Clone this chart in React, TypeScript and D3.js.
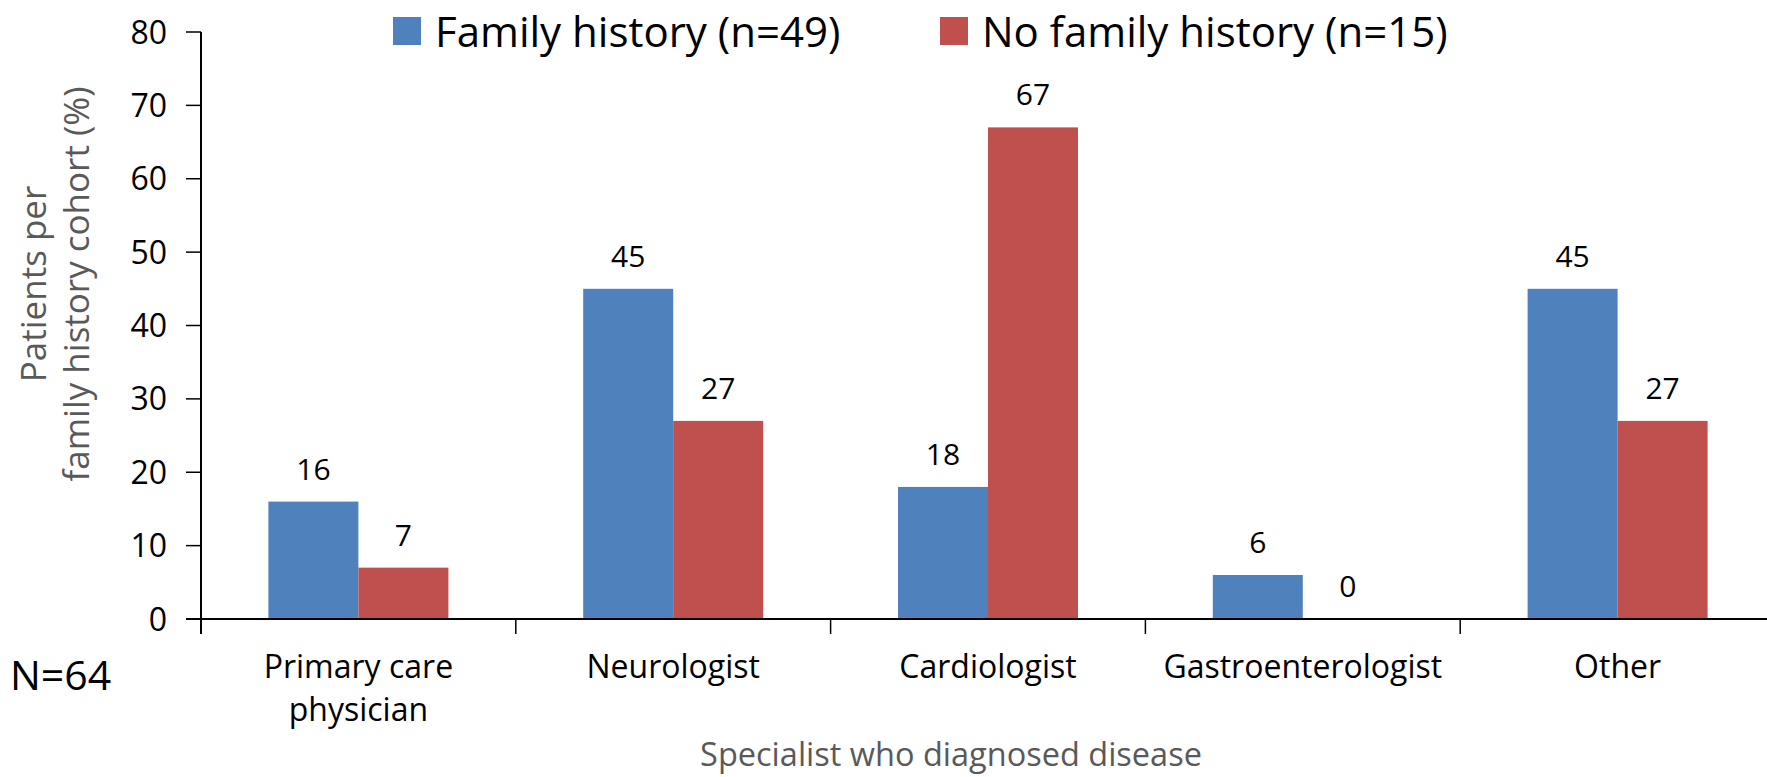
import * as d3 from 'd3'

const CATEGORIES = [['Primary care', 'physician'], ['Neurologist'], ['Cardiologist'], ['Gastroenterologist'], ['Other']]
const SERIES = ['Family history (n=49)', 'No family history (n=15)']
const FAMILY = [16, 45, 18, 6, 45]
const NO_FAMILY = [7, 27, 67, 0, 27]
const Y_TICKS = [0, 10, 20, 30, 40, 50, 60, 70, 80]
const COLORS = ['#4F81BD', '#C0504D']

const FONT = "'Open Sans', Carlito, sans-serif"

export default function App() {
  const width = 1767
  const height = 777
  const left = 201
  const right = 1775
  const top = 32
  const bottom = 619

  const x = d3.scaleBand<number>()
    .domain(CATEGORIES.map((_, i) => i))
    .range([left, right])

  const barW = 90
  const inner = d3.scaleBand<number>()
    .domain([0, 1])
    .range([0, barW * 2])

  const y = d3.scaleLinear().domain([0, 80]).range([bottom, top])

  const series = [FAMILY, NO_FAMILY]

  return (
    <svg width={width} height={height} style={{ position: 'absolute', left: 0, top: 0 }} fontFamily={FONT}>
      <rect width={width} height={height} fill="white" />

      {/* legend */}
      {SERIES.map((s, i) => {
        const lx = i === 0 ? 393 : 940
        return (
          <g key={s}>
            <rect x={lx} y={17} width={28} height={28} fill={COLORS[i]} />
            <text x={lx + 42} y={47} fontSize={42} fill="#000">{s}</text>
          </g>
        )
      })}

      {/* bars */}
      {series.map((vals, si) => vals.map((v, ci) => {
        const bx = x(ci)! + (x.bandwidth() - barW * 2) / 2 + inner(si)!
        return (
          <g key={`${si}-${ci}`}>
            <rect x={bx} y={y(v)} width={barW} height={y(0) - y(v)} fill={COLORS[si]} />
            <text x={bx + barW / 2} y={y(v) - 22} textAnchor="middle" fontSize={30} fill="#000">{v}</text>
          </g>
        )
      }))}

      {/* y axis */}
      <line x1={left} x2={left} y1={top} y2={bottom + 15} stroke="#000" strokeWidth={2} />
      {Y_TICKS.map(t => (
        <g key={t}>
          <line x1={left - 15} x2={left} y1={y(t)} y2={y(t)} stroke="#000" strokeWidth={1.5} />
          <text x={167} y={y(t) + 11.5} textAnchor="end" fontSize={32} fill="#000">{t}</text>
        </g>
      ))}

      {/* x axis */}
      <line x1={left - 15} x2={width} y1={bottom} y2={bottom} stroke="#000" strokeWidth={2} />
      {CATEGORIES.map((_, i) => (
        <line key={i} x1={x(i)!} x2={x(i)!} y1={bottom} y2={bottom + 15} stroke="#000" strokeWidth={1.5} />
      ))}
      {CATEGORIES.map((lines, i) => (
        <text key={i} x={x(i)! + x.bandwidth() / 2} textAnchor="middle" fontSize={32} fill="#000">
          {lines.map((l, j) => (
            <tspan key={j} x={x(i)! + x.bandwidth() / 2} y={678 + j * 43}>{l}</tspan>
          ))}
        </text>
      ))}

      {/* axis titles */}
      <text x={951} y={766} textAnchor="middle" fontSize={32.5} fill="#595959">
        Specialist who diagnosed disease
      </text>
      <text transform="translate(0,284) rotate(-90)" textAnchor="middle" fontSize={35} fill="#595959">
        <tspan x={0} y={46}>Patients per</tspan>
        <tspan x={0} y={89}>family history cohort (%)</tspan>
      </text>

      <text x={10} y={690} fontSize={41} fill="#000">N=64</text>
    </svg>
  )
}
